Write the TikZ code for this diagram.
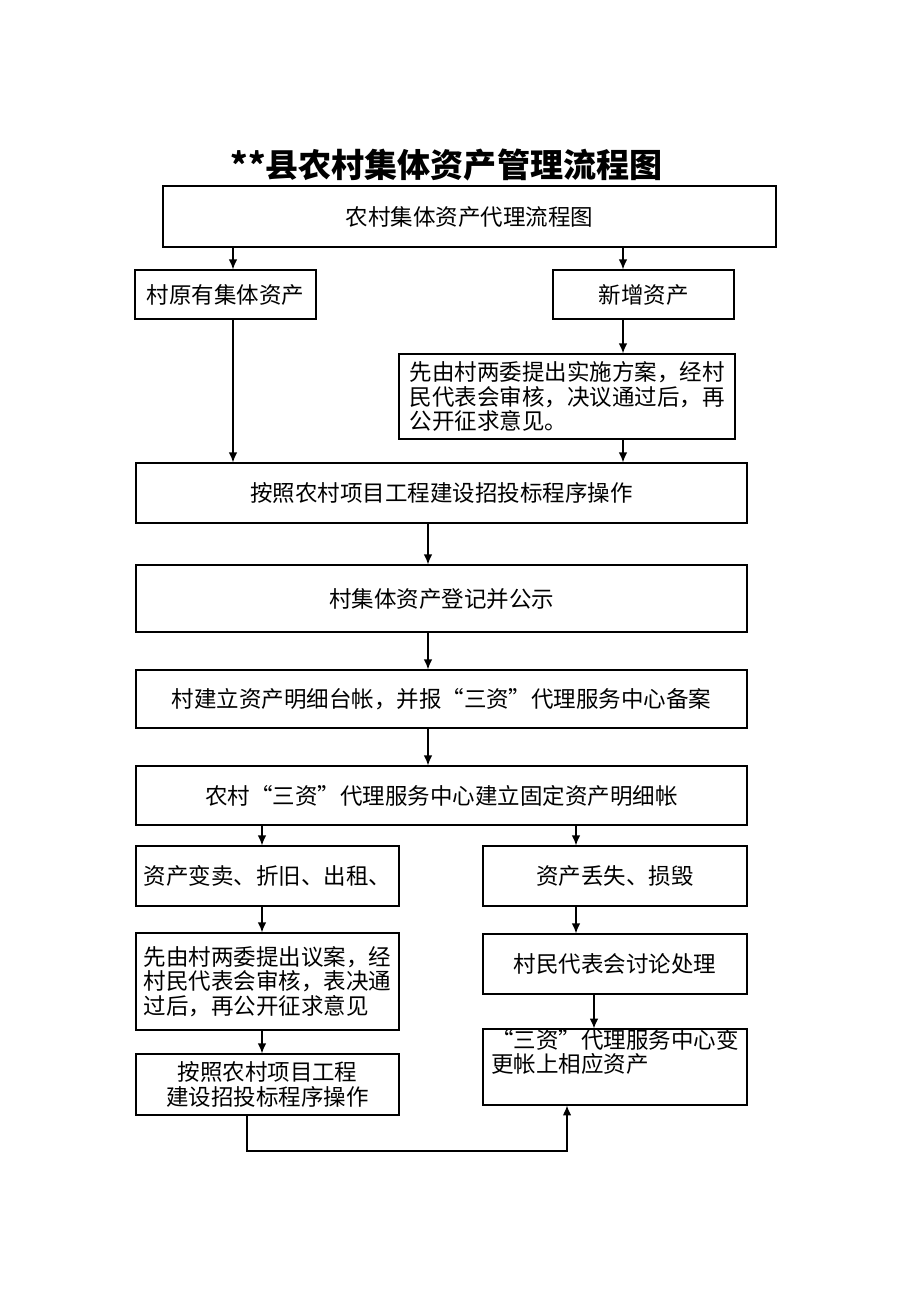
\documentclass[tikz,border=0pt]{standalone}
\usepackage{fontspec}
\setmainfont{Noto Sans CJK SC}
\usetikzlibrary{arrows.meta}

\tikzset{
  box/.style={draw=black, line width=1pt, inner sep=0pt, font=\fontsize{16}{17.5}\selectfont},
  arr/.style={-{Latex[length=7pt,width=6pt]}, line width=0.8pt},
}

\begin{document}
\begin{tikzpicture}[x=0.025cm, y=-0.025cm]
        \useasboundingbox (0,0) rectangle (920,1302);

        \node[font=\fontsize{23.5}{26}\selectfont\bfseries] (title) at (446.5,165) {**县农村集体资产管理流程图};

        \node[box, minimum width=15.325cm, minimum height=1.525cm] (agent) at (469.5,216.5) {农村集体资产代理流程图};
        \node[box, minimum width=4.525cm, minimum height=1.225cm] (orig) at (225.5,294.5) {村原有集体资产};
        \node[box, minimum width=4.525cm, minimum height=1.225cm] (newasset) at (643.5,294.5) {新增资产};
        \node[box, minimum width=8.4cm, minimum height=2.125cm, align=left] (plan) at (567,396.5)
             {先由村两委提出实施方案，经村\\民代表会审核，决议通过后，再\\公开征求意见。};

        \node[box, minimum width=15.275cm, minimum height=1.5cm] (bid) at (441.5,493) {按照农村项目工程建设招投标程序操作};
        \node[box, minimum width=15.275cm, minimum height=1.675cm] (register) at (441.5,598.5) {村集体资产登记并公示};
        \node[box, minimum width=15.275cm, minimum height=1.45cm] (ledger) at (441.5,699) {村建立资产明细台帐，并报“三资”代理服务中心备案};
        \node[box, minimum width=15.275cm, minimum height=1.475cm] (fixed) at (441.5,795.5) {农村“三资”代理服务中心建立固定资产明细帐};

        \node[box, minimum width=6.575cm, minimum height=1.5cm] (sell) at (267.5,876) {资产变卖、折旧、出租、};
        \node[box, minimum width=6.6cm, minimum height=1.5cm] (loss) at (615,876) {资产丢失、损毁};
        \node[box, minimum width=6.575cm, minimum height=2.425cm, align=left] (motion) at (267.5,981.5)
             {先由村两委提出议案，经\\村民代表会审核，表决通\\过后，再公开征求意见};
        \node[box, minimum width=6.6cm, minimum height=1.5cm] (discuss) at (615,964) {村民代表会讨论处理};
        \node[box, minimum width=6.6cm, minimum height=1.85cm, align=left] (change) at (615,1067)
             {“三资”代理服务中心变\\更帐上相应资产\\\strut};
        \node[box, minimum width=6.575cm, minimum height=1.525cm, align=center] (tender) at (267.5,1084.5)
             {按照农村项目工程\\建设招投标程序操作};

        \draw[arr] (agent.south -| 233,0) -- (orig.north -| 233,0);
        \draw[arr] (agent.south -| 623,0) -- (newasset.north -| 623,0);
        \draw[arr] (newasset.south -| 623,0) -- (plan.north -| 623,0);
        \draw[arr] (orig.south -| 233,0) -- (bid.north -| 233,0);
        \draw[arr] (plan.south -| 623,0) -- (bid.north -| 623,0);
        \foreach \src/\dst in {bid/register, register/ledger, ledger/fixed}
            \draw[arr] (\src.south -| 428,0) -- (\dst.north -| 428,0);

        \draw[arr] (fixed.south -| 262,0) -- (sell.north -| 262,0);
        \draw[arr] (fixed.south -| 576,0) -- (loss.north -| 576,0);
        \draw[arr] (sell.south -| 262,0) -- (motion.north -| 262,0);
        \draw[arr] (loss.south -| 576,0) -- (discuss.north -| 576,0);
        \draw[arr] (motion.south -| 262,0) -- (tender.north -| 262,0);
        \draw[arr] (discuss.south -| 594,0) -- (change.north -| 594,0);

        \draw[arr] (tender.south -| 247,0) |- (567,1151) -- (change.south -| 567,0);
\end{tikzpicture}
\end{document}
